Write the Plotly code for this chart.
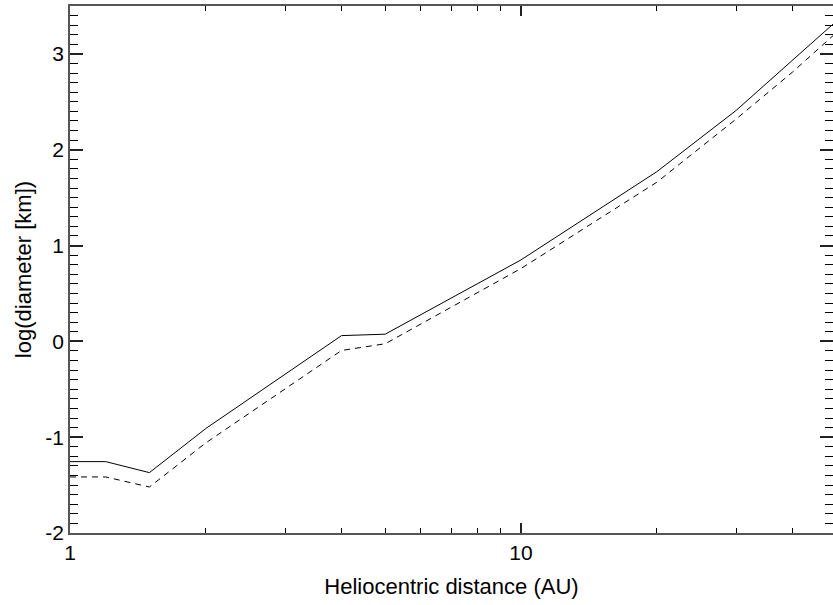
import math
import plotly.graph_objects as go

distance_au = [1, 1.2, 1.5, 2, 4, 5, 10, 20, 30, 40, 50]
log_diam_solid = [-1.255, -1.255, -1.37, -0.91, 0.06, 0.075, 0.85, 1.77, 2.41, 2.93, 3.34]
log_diam_dashed = [-1.415, -1.415, -1.52, -1.06, -0.095, -0.025, 0.76, 1.66, 2.32, 2.81, 3.22]

x_major_ticks = [1, 10]
x_minor_ticks = [2, 3, 4, 5, 6, 7, 8, 9, 20, 30, 40]
y_major_ticks = [-2, -1, 0, 1, 2, 3]
y_minor_ticks = [round(-2 + 0.1 * i, 1) for i in range(56) if i % 10 != 0]

x_range = [0, math.log10(49.2)]
y_range = [-2, 3.5]

fig = go.Figure()
fig.add_trace(go.Scatter(x=distance_au, y=log_diam_solid, mode="lines",
                         line=dict(color="black", width=1), showlegend=False))
fig.add_trace(go.Scatter(x=distance_au, y=log_diam_dashed, mode="lines",
                         line=dict(color="black", width=1, dash="6px,5px"), showlegend=False))
# invisible carrier traces for the tick overlay axes
for xa, ya in (("x2", "y2"), ("x3", "y3"), ("x4", "y4")):
    fig.add_trace(go.Scatter(x=distance_au, y=log_diam_solid, mode="lines", xaxis=xa, yaxis=ya,
                             line=dict(color="rgba(0,0,0,0)", width=0), hoverinfo="skip",
                             showlegend=False))

axis_font = dict(family="Liberation Sans, Arial, Helvetica, sans-serif", size=22, color="black")
tick_font = dict(family="Liberation Sans, Arial, Helvetica, sans-serif", size=21, color="black")

common = dict(showgrid=False, zeroline=False, automargin=False, mirror="ticks",
              showline=True, linecolor="#555", linewidth=1.5)

fig.update_layout(
    template="none",
    width=833, height=605,
    margin=dict(l=70, r=0, t=6, b=72, autoexpand=False),
    paper_bgcolor="white", plot_bgcolor="white",
    font=axis_font,
    xaxis=dict(
        type="log", range=x_range, ticks="",
        tickmode="array", tickvals=x_major_ticks, ticktext=[str(v) for v in x_major_ticks],
        title=dict(text="Heliocentric distance (AU)", font=axis_font, standoff=16),
        tickfont=tick_font, **common,
    ),
    yaxis=dict(
        range=y_range, ticks="",
        tickmode="array", tickvals=y_major_ticks, ticktext=[str(v) for v in y_major_ticks],
        title=dict(text="log(diameter [km])", font=axis_font, standoff=8),
        tickfont=tick_font, **common,
    ),
    # minor ticks
    xaxis2=dict(
        type="log", range=x_range, overlaying="x", anchor="y2", side="bottom",
        tickmode="array", tickvals=x_minor_ticks, showticklabels=False,
        ticks="inside", ticklen=5, tickwidth=1, tickcolor="black", **common,
    ),
    yaxis2=dict(
        range=y_range, overlaying="y", anchor="x2", side="left",
        tickmode="array", tickvals=y_minor_ticks, showticklabels=False,
        ticks="inside", ticklen=8, tickwidth=1, tickcolor="black", **common,
    ),
    # major ticks, drawn from both sides
    xaxis3=dict(
        type="log", range=x_range, overlaying="x", anchor="y3", side="bottom",
        tickmode="array", tickvals=x_major_ticks, showticklabels=False,
        ticks="inside", ticklen=10, tickwidth=1.5, tickcolor="#222", **common,
    ),
    yaxis3=dict(
        range=y_range, overlaying="y", anchor="x3", side="left",
        tickmode="array", tickvals=y_major_ticks, showticklabels=False,
        ticks="inside", ticklen=13, tickwidth=1.5, tickcolor="#222", **common,
    ),
    xaxis4=dict(
        type="log", range=x_range, overlaying="x", anchor="y4", side="top",
        tickmode="array", tickvals=x_major_ticks, showticklabels=False,
        ticks="inside", ticklen=10, tickwidth=1.5, tickcolor="#222", **common,
    ),
    yaxis4=dict(
        range=y_range, overlaying="y", anchor="x4", side="right",
        tickmode="array", tickvals=y_major_ticks, showticklabels=False,
        ticks="inside", ticklen=13, tickwidth=1.5, tickcolor="#222", **common,
    ),
)

fig.write_html(
    "out.html",
    config={"displayModeBar": False},
    post_script="document.body.style.margin='0';document.body.style.overflow='hidden';",
)
